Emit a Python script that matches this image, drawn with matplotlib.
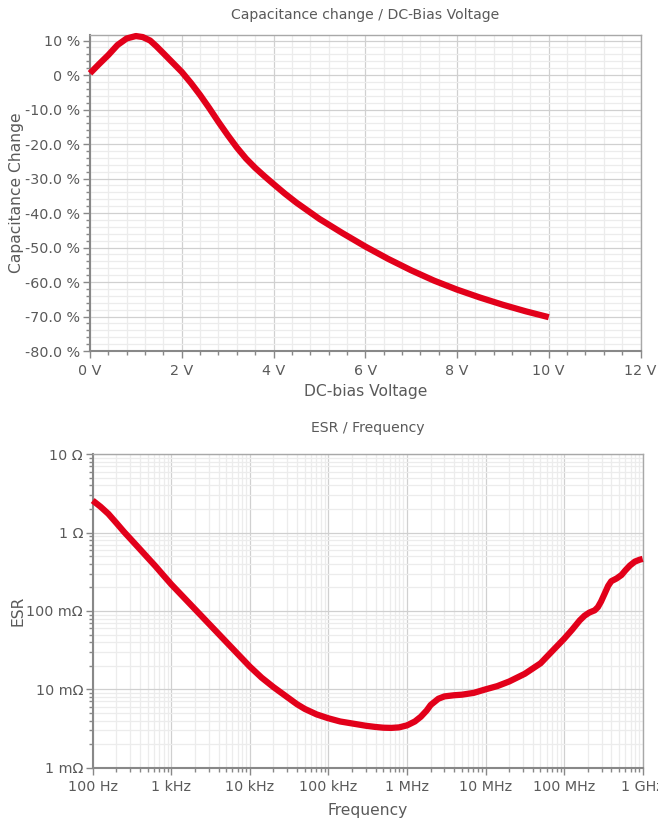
import matplotlib
matplotlib.use("Agg")
import matplotlib.pyplot as plt
from matplotlib.ticker import FixedLocator, FixedFormatter, MultipleLocator, LogLocator, NullFormatter

# ---------------- data ----------------
bias_voltage = [0, 0.2, 0.4, 0.6, 0.8, 1.0, 1.15, 1.31, 1.45, 1.6, 1.8, 2.0,
                2.2, 2.4, 2.6, 2.8, 3.0, 3.2, 3.4, 3.6, 3.8, 4.0, 4.25, 4.5,
                5.0, 5.5, 6.0, 6.5, 7.0, 7.5, 8.0, 8.5, 9.0, 9.5, 10.0]
cap_change = [0.5, 3.2, 5.8, 8.7, 10.6, 11.3, 11.0, 10.0, 8.3, 6.3, 3.6, 0.9,
              -2.3, -5.8, -9.6, -13.6, -17.4, -21.0, -24.2, -26.9, -29.3,
              -31.6, -34.4, -37.0, -41.7, -45.8, -49.7, -53.3, -56.6, -59.6,
              -62.2, -64.5, -66.6, -68.5, -70.2]

freq_hz = [100, 126, 158, 200, 251, 316, 398, 501, 631, 794, 1000, 1585, 2512,
           3981, 6310, 10000, 14125, 19953, 30000, 39811, 50119, 70795, 1.0e5,
           1.41e5, 2.0e5, 3.0e5, 3.98e5, 5.01e5, 6.31e5, 7.94e5, 1.0e6,
           1.26e6, 1.5e6, 1.78e6, 2.0e6, 2.24e6, 2.51e6, 3.0e6, 3.98e6, 5.01e6,
           7.08e6, 1.0e7, 1.41e7, 2.0e7, 3.16e7, 5.01e7, 7.24e7, 1.0e8, 1.26e8,
           1.58e8, 1.82e8, 2.09e8, 2.45e8, 2.69e8, 2.95e8, 3.31e8, 3.63e8,
           3.98e8, 4.65e8, 5.37e8, 6.03e8, 6.86e8, 7.94e8, 9.18e8, 1.0e9]
esr_ohm = [2.57, 2.14, 1.74, 1.33, 1.02, 0.794, 0.617, 0.479, 0.372, 0.285,
           0.219, 0.135, 0.0832, 0.0513, 0.0316, 0.0195, 0.0141, 0.0107,
           0.00794, 0.00646, 0.00562, 0.00479, 0.00427, 0.00389, 0.00367,
           0.00343, 0.00331, 0.00324, 0.00322, 0.00327, 0.00347, 0.00389,
           0.00447, 0.00537, 0.00631, 0.00692, 0.00759, 0.00813, 0.00841,
           0.00855, 0.00902, 0.0100, 0.0110, 0.0126, 0.0158, 0.0215, 0.0316,
           0.0442, 0.0575, 0.0759, 0.0871, 0.0955, 0.102, 0.112, 0.132, 0.170,
           0.209, 0.240, 0.260, 0.288, 0.331, 0.380, 0.427, 0.452, 0.462]

v_ticks = [0, 2, 4, 6, 8, 10, 12]
v_labels = ["0 V", "2 V", "4 V", "6 V", "8 V", "10 V", "12 V"]
pct_ticks = [10, 0, -10, -20, -30, -40, -50, -60, -70, -80]
pct_labels = ["10 %", "0 %", "-10.0 %", "-20.0 %", "-30.0 %", "-40.0 %",
              "-50.0 %", "-60.0 %", "-70.0 %", "-80.0 %"]
f_ticks = [1e2, 1e3, 1e4, 1e5, 1e6, 1e7, 1e8, 1e9]
f_labels = ["100 Hz", "1 kHz", "10 kHz", "100 kHz", "1 MHz", "10 MHz",
            "100 MHz", "1 GHz"]
r_ticks = [1e-3, 1e-2, 1e-1, 1, 10]
r_labels = ["1 mΩ", "10 mΩ", "100 mΩ", "1 Ω", "10 Ω"]

# ---------------- style ----------------
plt.rcParams['font.family'] = ['DejaVu Sans']
TXT = '#5a5a5a'
RED = '#e2001a'
W, H = 658, 818
fig = plt.figure(figsize=(W / 100, H / 100), dpi=100)


def style(ax):
    ax.set_facecolor('white')
    for s in ['left', 'bottom']:
        ax.spines[s].set_color('#888888')
        ax.spines[s].set_linewidth(1.5)
    for s in ['top', 'right']:
        ax.spines[s].set_color('#a8a8a8')
        ax.spines[s].set_linewidth(1.0)
    ax.grid(which='major', color='#d0d0d0', linewidth=0.9)
    ax.grid(which='minor', color='#ececec', linewidth=0.9)
    ax.set_axisbelow(True)
    ax.tick_params(which='both', colors='#888888', labelcolor=TXT,
                   labelsize=10.3, direction='out')
    ax.tick_params(which='major', length=5, width=1)
    ax.tick_params(which='minor', length=3, width=1)
    ax.tick_params(axis='x', pad=4)
    ax.tick_params(axis='y', pad=2)


# ---------- top chart ----------
ax1 = fig.add_axes([90 / W, 1 - 351 / H, 550.5 / W, 316 / H])
style(ax1)
ax1.plot(bias_voltage, cap_change, color=RED, linewidth=4.5,
         solid_capstyle='butt', solid_joinstyle='round', zorder=5, clip_on=False)
ax1.set_xlim(0, 12)
ax1.set_ylim(-80, 11.6)
ax1.xaxis.set_major_locator(FixedLocator(v_ticks))
ax1.xaxis.set_major_formatter(FixedFormatter(v_labels))
ax1.xaxis.set_minor_locator(MultipleLocator(0.4))
ax1.yaxis.set_major_locator(FixedLocator(pct_ticks))
ax1.yaxis.set_major_formatter(FixedFormatter(pct_labels))
ax1.yaxis.set_minor_locator(MultipleLocator(2))
ax1.set_title("Capacitance change / DC-Bias Voltage", color=TXT,
              fontsize=10.1, pad=11.5)
ax1.set_xlabel("DC-bias Voltage", color=TXT, fontsize=11.2, labelpad=5)
ax1.set_ylabel("Capacitance Change", color=TXT, fontsize=11.2, labelpad=1)

# ---------- bottom chart ----------
ax2 = fig.add_axes([92.7 / W, 1 - 767.7 / H, 550 / W, 313.4 / H])
style(ax2)
ax2.set_xscale('log')
ax2.set_yscale('log')
ax2.plot(freq_hz, esr_ohm, color=RED, linewidth=4.5,
         solid_capstyle='butt', solid_joinstyle='round', zorder=5, clip_on=False)
ax2.set_xlim(1e2, 1e9)
ax2.set_ylim(1e-3, 10)
ax2.xaxis.set_major_locator(FixedLocator(f_ticks))
ax2.xaxis.set_major_formatter(FixedFormatter(f_labels))
ax2.xaxis.set_minor_locator(LogLocator(base=10, subs=range(2, 10), numticks=20))
ax2.xaxis.set_minor_formatter(NullFormatter())
ax2.yaxis.set_major_locator(FixedLocator(r_ticks))
ax2.yaxis.set_major_formatter(FixedFormatter(r_labels))
ax2.yaxis.set_minor_locator(LogLocator(base=10, subs=range(2, 10), numticks=20))
ax2.yaxis.set_minor_formatter(NullFormatter())
ax2.set_title("ESR / Frequency", color=TXT, fontsize=10.1, pad=16)
ax2.set_xlabel("Frequency", color=TXT, fontsize=11.2, labelpad=6)
ax2.set_ylabel("ESR", color=TXT, fontsize=11.2, labelpad=1)

fig.savefig("out.png", dpi=100, facecolor='white')
